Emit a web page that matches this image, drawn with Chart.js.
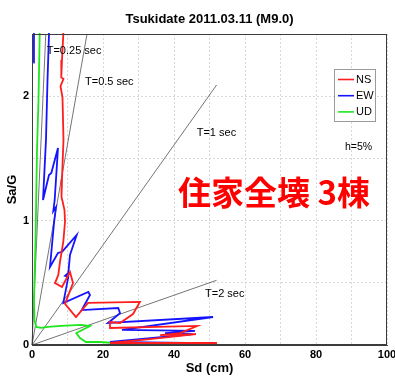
<!DOCTYPE html>
<html>
<head>
<meta charset="utf-8">
<script src="https://cdn.jsdelivr.net/npm/chart.js@4/dist/chart.umd.min.js"></script>
<style>
  html, body { margin: 0; padding: 0; background: #fff; }
  #wrap { width: 395px; height: 378px; }
</style>
</head>
<body>
<div id="wrap"><canvas id="c" width="395" height="378"></canvas></div>
<script>
// Sd (cm) against Sa (G), 5% damping, each component traced in order of period
const nsSd = [8.87, 8.82, 8.45, 8.25, 8.87, 8.03, 8.59, 8.87, 8.45, 8.31, 8.65, 9.15, 9.30, 8.82, 7.89, 7.41, 6.48, 8.45, 10.7, 11.55, 9.30, 12.39, 15.77, 30.4, 28.45, 24.8, 21.97, 21.97, 46.5, 41.7, 36.1, 46.2, 33.2, 21.97, 52.1];
const nsSa = [2.60, 2.50, 2.29, 2.15, 2.14, 2.08, 1.99, 1.65, 1.33, 1.19, 1.15, 1.085, 0.99, 0.83, 0.67, 0.563, 0.498, 0.466, 0.587, 0.498, 0.33, 0.225, 0.338, 0.346, 0.249, 0.177, 0.185, 0.137, 0.153, 0.096, 0.080, 0.088, 0.048, 0.016, 0.016];

const ewSd = [0.40, 0.55, 4.79, 4.79, 4.37, 3.94, 3.10, 4.79, 5.44, 7.32, 6.39, 6.00, 6.76, 6.20, 5.63, 5.07, 7.32, 8.45, 12.59, 10.7, 10.23, 9.30, 10.23, 8.82, 15.86, 16.34, 14.0, 24.3, 24.8, 21.4, 51.0, 25.35, 45.9, 37.5, 45.35, 21.97, 43.7];
const ewSa = [2.27, 2.60, 2.60, 2.50, 2.13, 1.65, 1.166, 1.367, 1.383, 1.584, 1.166, 1.077, 1.109, 0.981, 0.804, 0.627, 0.74, 0.748, 0.884, 0.723, 0.579, 0.555, 0.547, 0.338, 0.426, 0.402, 0.281, 0.297, 0.255, 0.177, 0.225, 0.121, 0.113, 0.096, 0.088, 0.024, 0.016];

const udSd = [2.20, 2.17, 1.83, 1.41, 0.99, 0.56, 0.70, 1.21, 2.62, 4.50, 8.17, 13.8, 16.34, 12.48, 13.52, 15.2, 19.15, 26.76];
const udSa = [2.60, 2.50, 1.97, 1.57, 0.844, 0.362, 0.20, 0.145, 0.137, 0.145, 0.153, 0.161, 0.153, 0.096, 0.056, 0.024, 0.024, 0.008];

// constant-period guide lines, drawn from the origin to these end points
const periodNames = ['T=0.25 sec', 'T=0.5 sec', 'T=1 sec', 'T=2 sec'];
const periodEndSd = [3.88, 15.5, 52, 52];
const periodEndSa = [2.5, 2.5, 2.09, 0.52];

// axis ticks
const xTickStep = 10, xLabelEvery = 20;
const yTickStep = 0.5, yLabelEvery = 1;

const seriesNames = ['NS', 'EW', 'UD'];
const seriesColors = ['#ff1e1e', '#1414ff', '#1ee61e'];

// where the guide-line captions sit (data units, left end of the text)
const periodLabelAt = [
  { x: 4.14, y: 2.366 },
  { x: 14.93, y: 2.117 },
  { x: 46.4, y: 1.707 },
  { x: 48.73, y: 0.41 }
];

const pts = (xs, ys) => xs.map((v, i) => ({ x: v, y: ys[i] }));

const datasets = [
  { label: seriesNames[0], data: pts(nsSd, nsSa), borderColor: seriesColors[0] },
  { label: seriesNames[1], data: pts(ewSd, ewSa), borderColor: seriesColors[1] },
  { label: seriesNames[2], data: pts(udSd, udSa), borderColor: seriesColors[2] }
].map(d => Object.assign(d, { showLine: true, pointRadius: 0, borderWidth: 1.8, fill: false, tension: 0, clip: 1 }));

periodEndSd.forEach((sd, i) => {
  datasets.push({
    label: periodNames[i],
    data: [{ x: 0, y: 0 }, { x: sd, y: periodEndSa[i] }],
    showLine: true, pointRadius: 0, borderWidth: 0.8,
    borderColor: '#505050', fill: false, clip: 1
  });
});

const FONT = '"Liberation Sans", Arial, Helvetica, sans-serif';

const decor = {
  id: 'decor',
  afterDraw(chart) {
    const { ctx, chartArea: a, scales } = chart;
    const xs = scales.x, ys = scales.y;
    ctx.save();

    // frame round the plot
    ctx.strokeStyle = '#3c3c3c';
    ctx.lineWidth = 1;
    ctx.strokeRect(Math.round(a.left) + 0.5, Math.round(a.top) + 0.5,
                   Math.round(a.right - a.left) - 1, Math.round(a.bottom - a.top) - 1);

    // title
    ctx.fillStyle = '#000';
    ctx.font = 'bold 13px ' + FONT;
    ctx.textAlign = 'center';
    ctx.textBaseline = 'middle';
    ctx.fillText('Tsukidate 2011.03.11 (M9.0)', (a.left + a.right) / 2, 19);

    // guide-line captions
    ctx.font = '11px ' + FONT;
    ctx.textAlign = 'left';
    periodNames.forEach((t, i) => {
      ctx.fillText(t, xs.getPixelForValue(periodLabelAt[i].x), ys.getPixelForValue(periodLabelAt[i].y));
    });

    // legend box
    const lx = a.right - 53, ly = a.top + 35, lw = 41, lh = 52;
    ctx.fillStyle = '#fff';
    ctx.fillRect(lx, ly, lw, lh);
    ctx.strokeStyle = '#9a9a9a';
    ctx.lineWidth = 1;
    ctx.strokeRect(lx + 0.5, ly + 0.5, lw, lh);
    ctx.font = '11px ' + FONT;
    seriesNames.forEach((n, i) => {
      const yy = ly + 10.5 + i * 16.2;
      ctx.strokeStyle = seriesColors[i];
      ctx.lineWidth = 1.6;
      ctx.beginPath();
      ctx.moveTo(lx + 4, yy);
      ctx.lineTo(lx + 20, yy);
      ctx.stroke();
      ctx.fillStyle = '#000';
      ctx.fillText(n, lx + 22, yy);
    });

    // damping note
    ctx.font = '10.5px ' + FONT;
    ctx.fillText('h=5%', a.right - 42, a.top + 113);

    // damage note
    ctx.fillStyle = '#ff0000';
    ctx.font = 'bold 33px "Noto Sans CJK JP", sans-serif';
    ctx.fillText('住家全壊 3棟', a.left + 146, a.top + 158);

    ctx.restore();
  }
};

new Chart(document.getElementById('c'), {
  type: 'scatter',
  data: { datasets },
  options: {
    responsive: false,
    devicePixelRatio: 1,
    animation: false,
    layout: { padding: { top: 34, right: 8, bottom: 0, left: 0 } },
    plugins: { legend: { display: false }, tooltip: { enabled: false }, title: { display: false } },
    scales: {
      x: {
        type: 'linear', min: 0, max: 100,
        ticks: {
          stepSize: xTickStep, padding: 3, color: '#000',
          font: { family: FONT, size: 11, weight: 'bold' },
          callback: v => (v % xLabelEvery === 0 ? String(v) : '')
        },
        grid: { color: '#cfcfcf', lineWidth: 0.8, drawTicks: false },
        border: { display: true, color: '#3c3c3c', dash: [2, 2] },
        title: { display: true, text: 'Sd (cm)', color: '#000', padding: { top: 0, bottom: 2 },
                 font: { family: FONT, size: 13, weight: 'bold' } },
        afterFit(s) { s.height = 33; s.paddingLeft = 0; s.paddingRight = 0; }
      },
      y: {
        type: 'linear', min: 0, max: 2.5,
        ticks: {
          stepSize: yTickStep, padding: 3, color: '#000',
          font: { family: FONT, size: 11, weight: 'bold' },
          callback: v => (Math.abs(v % yLabelEvery) < 1e-9 ? String(v) : '')
        },
        grid: { color: '#cfcfcf', lineWidth: 0.8, drawTicks: false },
        border: { display: true, color: '#3c3c3c', dash: [2, 2] },
        title: { display: true, text: 'Sa/G', color: '#000', padding: { top: 5, bottom: 0 },
                 font: { family: FONT, size: 13, weight: 'bold' } },
        afterFit(s) { s.width = 32; s.paddingTop = 0; s.paddingBottom = 0; }
      }
    }
  },
  plugins: [decor]
});
</script>
</body>
</html>
